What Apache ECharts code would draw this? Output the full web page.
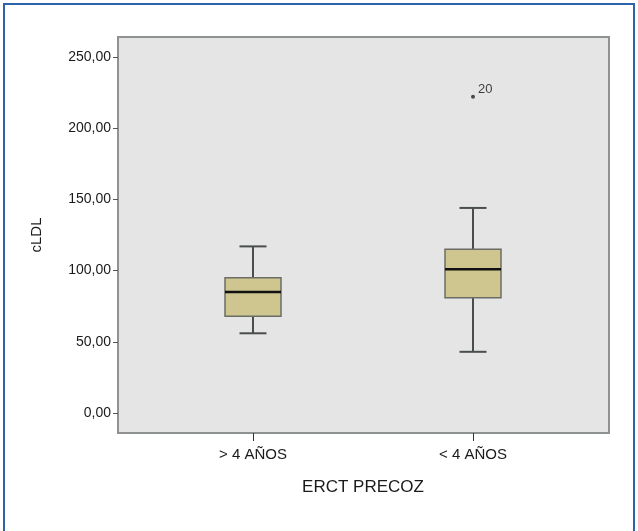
<!DOCTYPE html>
<html>
<head>
<meta charset="utf-8">
<script src="https://cdn.jsdelivr.net/npm/echarts@6/dist/echarts.min.js"></script>
<style>html,body{margin:0;padding:0;background:#fff}#c{width:638px;height:531px}</style>
</head>
<body>
<div id="c"></div>
<script>
const categories = ['> 4 AÑOS', '< 4 AÑOS'];
const whiskerLow = [56, 43];
const q1Vals = [68, 81];
const medianVals = [85, 101];
const q3Vals = [95, 115];
const whiskerHigh = [117, 144];
const outliers = [[1, 222]];
const outlierLabels = ['20'];
const yTicks = [0, 50, 100, 150, 200, 250];

const FONT = 'Liberation Sans, Arial, sans-serif';
const chart = echarts.init(document.getElementById('c'));

const boxData = categories.map((c, i) => [i, whiskerLow[i], q1Vals[i], medianVals[i], q3Vals[i], whiskerHigh[i]]);

function renderBox(params, api) {
  const i = api.value(0);
  const pMin = api.coord([i, api.value(1)]);
  const pQ1 = api.coord([i, api.value(2)]);
  const pMed = api.coord([i, api.value(3)]);
  const pQ3 = api.coord([i, api.value(4)]);
  const pMax = api.coord([i, api.value(5)]);
  const x = pMed[0];
  const hb = 28, hc = 13.5;
  const lineStyle = {stroke: '#4a4d4d', lineWidth: 2};
  return {
    type: 'group',
    children: [
      {type: 'line', shape: {x1: x, y1: pMax[1], x2: x, y2: pQ3[1]}, style: lineStyle},
      {type: 'line', shape: {x1: x, y1: pQ1[1], x2: x, y2: pMin[1]}, style: lineStyle},
      {type: 'line', shape: {x1: x - hc, y1: pMax[1], x2: x + hc, y2: pMax[1]}, style: lineStyle},
      {type: 'line', shape: {x1: x - hc, y1: pMin[1], x2: x + hc, y2: pMin[1]}, style: lineStyle},
      {type: 'rect', shape: {x: x - hb, y: pQ3[1], width: hb * 2, height: pQ1[1] - pQ3[1]},
        style: {fill: '#cfc58e', stroke: '#6b6d66', lineWidth: 1.5}},
      {type: 'line', shape: {x1: x - hb, y1: pMed[1], x2: x + hb, y2: pMed[1]}, style: {stroke: '#111', lineWidth: 2.5}}
    ]
  };
}

chart.setOption({
  backgroundColor: '#fff',
  animation: false,
  graphic: [{
    type: 'rect', shape: {x: 4, y: 4, width: 630, height: 540},
    style: {fill: 'none', stroke: '#2d62ad', lineWidth: 2}, silent: true, z: 100
  }],
  grid: [
    {left: 118, top: 37, width: 491, height: 396, show: true, backgroundColor: '#e5e5e5', borderColor: '#8e9292', borderWidth: 2},
    {left: 143, top: 37, width: 440, height: 396, show: false}
  ],
  xAxis: [
    {gridIndex: 0, type: 'value', show: false, min: 0, max: 1},
    {gridIndex: 1, type: 'category', data: categories, position: 'bottom',
      axisLine: {show: false, onZero: false},
      axisTick: {show: true, alignWithLabel: true, length: 8, lineStyle: {color: '#333', width: 1}},
      axisLabel: {margin: 14, fontFamily: FONT, fontSize: 15, color: '#1a1a1a'},
      name: 'ERCT PRECOZ', nameLocation: 'middle', nameGap: 46,
      nameTextStyle: {fontFamily: FONT, fontSize: 17, color: '#1a1a1a'}
    }
  ],
  yAxis: [
    {gridIndex: 0, type: 'value', min: -14, max: 264,
      axisLine: {show: false},
      axisTick: {show: true, length: 5, customValues: yTicks, lineStyle: {color: '#555'}},
      axisLabel: {customValues: yTicks, margin: 7, fontFamily: FONT, fontSize: 14, color: '#1a1a1a',
        formatter: v => v.toFixed(2).replace('.', ',')},
      splitLine: {show: false},
      name: 'cLDL', nameLocation: 'middle', nameGap: 74, nameRotate: 90,
      nameTextStyle: {fontFamily: FONT, fontSize: 15, color: '#1a1a1a'}
    },
    {gridIndex: 1, type: 'value', min: -14, max: 264, show: false}
  ],
  series: [
    {type: 'custom', xAxisIndex: 1, yAxisIndex: 1, renderItem: renderBox, data: boxData,
      encode: {x: 0, y: [1, 2, 3, 4, 5]}},
    {type: 'scatter', xAxisIndex: 1, yAxisIndex: 1, symbol: 'circle', symbolSize: 4,
      itemStyle: {color: '#222'},
      data: outliers.map((d, k) => ({value: d, label: {formatter: outlierLabels[k]}})),
      label: {show: true, position: [7, -12], fontFamily: FONT, fontSize: 13, color: '#111'}}
  ]
});
</script>
</body>
</html>
